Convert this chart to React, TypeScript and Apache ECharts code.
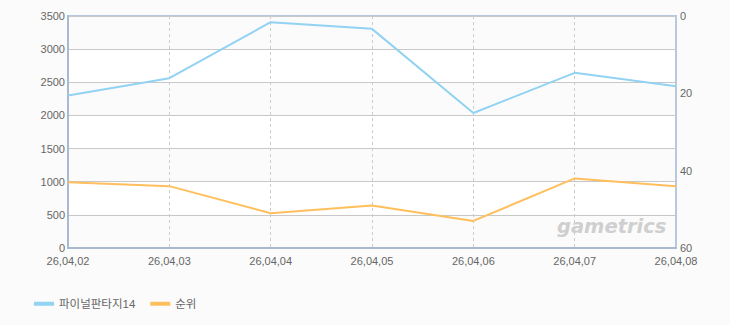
import React, { useEffect, useRef } from "react";
import * as echarts from "echarts";

const categories = ["26,04,02", "26,04,03", "26,04,04", "26,04,05", "26,04,06", "26,04,07", "26,04,08"];
const gameName = "파이널판타지14";
const rankName = "순위";
const gameValues = [2300, 2562, 3406, 3306, 2036, 2643, 2441];
const rankValues = [43, 44, 51, 49, 53, 42, 44];

const FONT = "'Liberation Sans', 'Noto Sans CJK KR', sans-serif";

export default function App() {
  const ref = useRef<HTMLDivElement>(null);
  useEffect(() => {
    if (!ref.current) return;
    const chart = echarts.init(ref.current, null, { renderer: "svg" });
    chart.setOption({
      animation: false,
      backgroundColor: "#fbfbfb",
      textStyle: { fontFamily: FONT },
      grid: {
        left: 68,
        right: 54,
        top: 16,
        bottom: 77,
        show: true,
        borderColor: "#b9c9dc",
        borderWidth: 2,
        backgroundColor: "transparent",
      },
      legend: {
        left: 29,
        top: 293,
        itemWidth: 20,
        itemHeight: 4,
        itemGap: 15,
        icon: "rect",
        textStyle: { fontSize: 11.5, color: "#666", fontFamily: FONT },
        data: [gameName, rankName],
      },
      graphic: [
        {
          type: "text",
          left: 557,
          top: 216,
          z: 10,
          style: {
            text: "gametrics",
            fill: "#cfcfcf",
            font: "italic bold 19.5px 'DejaVu Sans', sans-serif",
          },
        },
      ],
      xAxis: {
        type: "category",
        data: categories,
        boundaryGap: false,
        axisLine: { show: true, lineStyle: { color: "#a9bad0", width: 2 } },
        axisTick: { show: false },
        axisLabel: { color: "#666", fontSize: 11, margin: 7, fontFamily: FONT },
        splitLine: { show: true, lineStyle: { color: "#cccccc", type: [3, 3], width: 1 } },
      },
      yAxis: [
        {
          type: "value",
          min: 0,
          max: 3500,
          interval: 500,
          axisLine: { show: true, lineStyle: { color: "#a9bad0", width: 2 } },
          axisTick: { show: false },
          axisLabel: {
            color: "#666",
            fontSize: 11,
            margin: 3,
            fontFamily: FONT,
            formatter: (v: number) => String(v),
          },
          splitLine: { show: true, lineStyle: { color: "#c8c8c8", width: 1 } },
          splitArea: { show: true, areaStyle: { color: ["#fbfbfb", "#ffffff"] } },
        },
        {
          type: "value",
          min: 0,
          max: 60,
          interval: 20,
          inverse: true,
          position: "right",
          axisLine: { show: true, lineStyle: { color: "#b9c9dc", width: 2 } },
          axisTick: { show: false },
          axisLabel: { color: "#666", fontSize: 11, margin: 4, fontFamily: FONT },
          splitLine: { show: false },
        },
      ],
      series: [
        {
          name: gameName,
          type: "line",
          data: gameValues,
          yAxisIndex: 0,
          symbol: "none",
          color: "#92d2f2",
          lineStyle: { width: 2, color: "#92d2f2" },
        },
        {
          name: rankName,
          type: "line",
          data: rankValues,
          yAxisIndex: 1,
          symbol: "none",
          color: "#ffbf5c",
          lineStyle: { width: 2, color: "#ffbf5c" },
        },
      ],
    });
    return () => chart.dispose();
  }, []);
  return (
    <div
      ref={ref}
      style={{ position: "fixed", left: 0, top: 0, width: 730, height: 325 }}
    />
  );
}
